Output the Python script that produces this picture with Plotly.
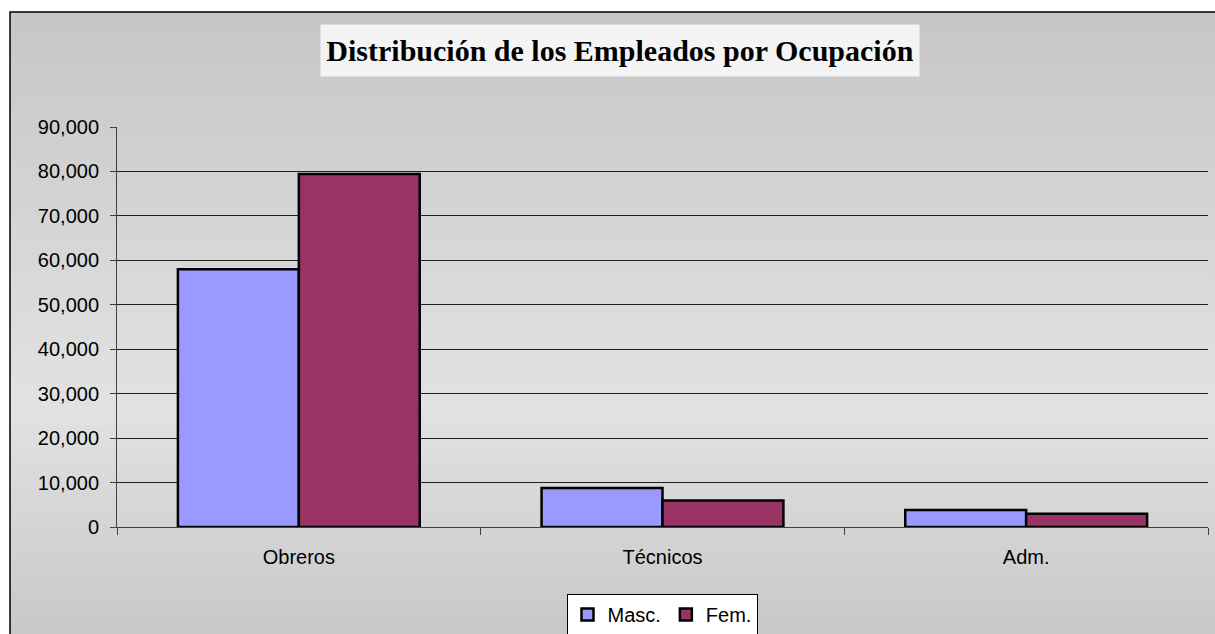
import base64
import plotly.graph_objects as go

categories = ["Obreros", "Técnicos", "Adm."]
masc = [58000, 8750, 3850]
fem = [79400, 5950, 3000]
series_names = ["Masc.", "Fem."]
title_text = "Distribución de los Empleados por Ocupación"

W, H = 1215, 634
L, R, T, B = 117, 7, 127, 107
pw, ph = W - L - R, H - T - B

def px_x(x):
    return (x - L) / pw

def px_y(y):
    return (H - B - y) / ph

svg = (
    '<svg xmlns="http://www.w3.org/2000/svg" width="100" height="100" preserveAspectRatio="none">'
    '<defs><linearGradient id="g" x1="0" y1="0" x2="0" y2="1">'
    '<stop offset="0" stop-color="#c6c6c6"/>'
    '<stop offset="0.62" stop-color="#e2e2e2"/>'
    '<stop offset="1" stop-color="#c6c6c6"/>'
    '</linearGradient></defs>'
    '<rect width="100" height="100" fill="url(#g)"/></svg>'
)
src = "data:image/svg+xml;base64," + base64.b64encode(svg.encode()).decode()

font_sans = "Arial, Liberation Sans, sans-serif"

fig = go.Figure()
fig.add_trace(go.Bar(x=categories, y=masc, name=series_names[0],
                     marker=dict(color="#9999FF", line=dict(color="black", width=2.5))))
fig.add_trace(go.Bar(x=categories, y=fem, name=series_names[1],
                     marker=dict(color="#993366", line=dict(color="black", width=2.5))))

fig.update_layout(
    width=W, height=H,
    margin=dict(l=L, r=R, t=T, b=B, autoexpand=False),
    paper_bgcolor="white",
    plot_bgcolor="rgba(0,0,0,0)",
    barmode="group", bargap=0.335, bargroupgap=0,
    font=dict(family=font_sans, size=20, color="black"),
    showlegend=True,
    legend=dict(orientation="h", x=px_x(662), y=px_y(614.5), xanchor="center", yanchor="middle",
                bgcolor="white", bordercolor="black", borderwidth=1,
                font=dict(size=20), itemwidth=30, tracegroupgap=0),
    images=[dict(source=src, xref="paper", yref="paper",
                 x=px_x(10), y=px_y(12), sizex=px_x(1225) - px_x(10), sizey=px_y(12) - px_y(650),
                 xanchor="left", yanchor="top", sizing="stretch", layer="below")],
    shapes=[dict(type="rect", xref="paper", yref="paper",
                 x0=px_x(10), x1=px_x(1230), y0=px_y(650), y1=px_y(12),
                 line=dict(color="black", width=1.5), fillcolor="rgba(0,0,0,0)", layer="below")],
    annotations=[dict(text="<b>" + title_text + "</b>", xref="paper", yref="paper",
                      x=px_x(620), y=px_y(50.5), xanchor="center", yanchor="middle",
                      showarrow=False, bgcolor="#f4f4f4", width=594, height=47, borderpad=2,
                      font=dict(family="Times New Roman, Liberation Serif, serif", size=30, color="black"))],
)
fig.update_xaxes(showgrid=False, showline=True, linecolor="#404040", linewidth=1,
                 ticks="outside", tickson="boundaries", ticklen=7, tickcolor="#404040",
                 ticklabelstandoff=12)
fig.update_yaxes(range=[0, 90000], dtick=10000, tickformat=",d", showgrid=True,
                 gridcolor="#202020", gridwidth=1, showline=True, linecolor="#404040", linewidth=1,
                 ticks="outside", ticklen=6, tickcolor="#404040", zeroline=False,
                 ticklabelstandoff=7)

fig.write_html("out.html", config={"displayModeBar": False},
               post_script="document.body.style.margin='0';document.body.style.overflow='hidden';")
